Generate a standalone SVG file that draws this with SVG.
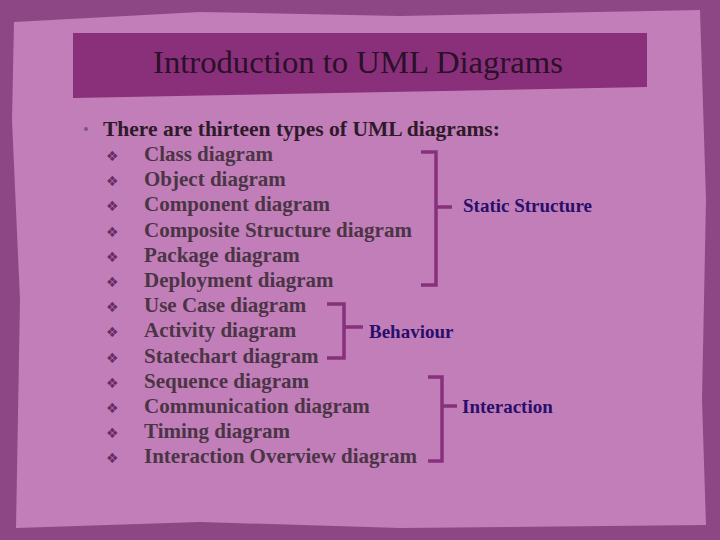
<svg xmlns="http://www.w3.org/2000/svg" width="720" height="540" viewBox="0 0 720 540">
<style>
.it{font-family:"Liberation Serif","DejaVu Serif",serif;font-size:21px;font-weight:bold;fill:#4a3546}
.bl{font-family:"DejaVu Sans",sans-serif;font-size:14px;fill:#6a2a66}
.lb{font-family:"Liberation Serif","DejaVu Serif",serif;font-size:19px;font-weight:bold;fill:#2a0f6a}
.br{fill:none;stroke:#87307c;stroke-width:3.5}
</style>
<rect width="720" height="540" fill="#8d4785"/>
<path d="M14 22 L200 12 L400 16 L700 10 L706 200 L702 400 L706 525 L400 528 L200 522 L16 528 L20 300 L12 120 Z" fill="#c27eb8"/>
<path d="M73 33 L647 33 L647 87 L73 98 Z" fill="#8a2f7a"/>
<text x="358" y="73" text-anchor="middle" font-family="Liberation Serif, DejaVu Serif, serif" font-size="31" fill="#2a1028" textLength="410" lengthAdjust="spacingAndGlyphs">Introduction to UML Diagrams</text>
<circle cx="86" cy="129" r="2" fill="#7a5a78"/>
<text x="103" y="136" font-family="Liberation Serif, DejaVu Serif, serif" font-size="21.5" font-weight="bold" fill="#2e1a2a">There are thirteen types of UML diagrams:</text>
<g id="items">
<g class="bl"><text x="106" y="161">❖</text><text x="106" y="186">❖</text><text x="106" y="211">❖</text><text x="106" y="237">❖</text><text x="106" y="262">❖</text><text x="106" y="287">❖</text><text x="106" y="312">❖</text><text x="106" y="337">❖</text><text x="106" y="363">❖</text><text x="106" y="388">❖</text><text x="106" y="413">❖</text><text x="106" y="438">❖</text><text x="106" y="463">❖</text></g>
<text class="it" x="144" y="161">Class diagram</text>
<text class="it" x="144" y="186">Object diagram</text>
<text class="it" x="144" y="211">Component diagram</text>
<text class="it" x="144" y="237">Composite Structure diagram</text>
<text class="it" x="144" y="262">Package diagram</text>
<text class="it" x="144" y="287">Deployment diagram</text>
<text class="it" x="144" y="312">Use Case diagram</text>
<text class="it" x="144" y="337">Activity diagram</text>
<text class="it" x="144" y="363">Statechart diagram</text>
<text class="it" x="144" y="388">Sequence diagram</text>
<text class="it" x="144" y="413">Communication diagram</text>
<text class="it" x="144" y="438">Timing diagram</text>
<text class="it" x="144" y="463">Interaction Overview diagram</text>
</g>
<g id="connectors">
<path class="br" d="M421 152 L436 152 L436 285 L421 285 M436 207 L452 207"/>
<path class="br" d="M327 304 L344 304 L344 358 L327 358 M344 327 L363 327"/>
<path class="br" d="M428 377 L442 377 L442 461 L428 461 M442 406 L457 406"/>
</g>
<g id="static"><text class="lb" x="463" y="212">Static Structure</text></g>
<g id="behaviour"><text class="lb" x="369" y="338">Behaviour</text></g>
<g id="interaction"><text class="lb" x="462" y="413">Interaction</text></g>
</svg>
